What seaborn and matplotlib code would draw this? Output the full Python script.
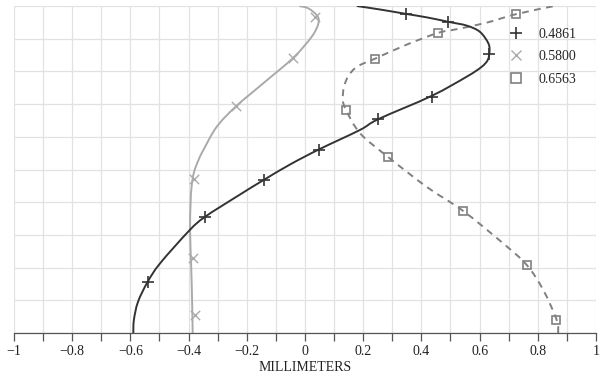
import matplotlib
matplotlib.use("Agg")
import matplotlib.pyplot as plt
import seaborn as sns
import numpy as np
from matplotlib.lines import Line2D
from matplotlib.path import Path
from matplotlib.patches import PathPatch

# ---- data ----
labels = ["0.4861", "0.5800", "0.6563"]

# curve paths (x in millimeters, y normalized field height), bottom -> top
black_x = [-0.590, -0.588, -0.574, -0.541, -0.498, -0.398, -0.344, -0.235, -0.142, -0.050,
           0.047, 0.189, 0.252, 0.435, 0.556, 0.607, 0.628, 0.634, 0.630, 0.601,
           0.556, 0.496, 0.420, 0.346, 0.260, 0.178]
black_y = [0.000, 0.040, 0.095, 0.156, 0.213, 0.313, 0.355, 0.417, 0.468, 0.516,
           0.561, 0.621, 0.654, 0.725, 0.784, 0.814, 0.835, 0.860, 0.886, 0.921,
           0.940, 0.951, 0.965, 0.976, 0.989, 1.000]

gray_x = [-0.386, -0.388, -0.391, -0.395, -0.393, -0.390, -0.382, -0.366, -0.349, -0.303,
          -0.236, -0.143, -0.040, 0.023, 0.046, 0.042, 0.011, -0.020]
gray_y = [0.000, 0.100, 0.200, 0.315, 0.400, 0.445, 0.490, 0.529, 0.560, 0.631,
          0.694, 0.764, 0.842, 0.906, 0.947, 0.970, 0.993, 1.000]

dash_x = [0.870, 0.865, 0.819, 0.762, 0.681, 0.544, 0.418, 0.283, 0.189, 0.141,
          0.130, 0.134, 0.150, 0.180, 0.241, 0.347, 0.458, 0.521, 0.624, 0.725, 0.857]
dash_y = [0.000, 0.040, 0.131, 0.208, 0.274, 0.373, 0.447, 0.540, 0.611, 0.682,
          0.713, 0.753, 0.787, 0.815, 0.839, 0.881, 0.918, 0.929, 0.949, 0.975, 1.000]

# marker positions
black_mx = [0.346, 0.491, 0.632, 0.435, 0.251, 0.048, -0.141, -0.344, -0.541]
black_my = [0.976, 0.951, 0.853, 0.723, 0.654, 0.561, 0.468, 0.355, 0.156]
gray_mx = [0.034, -0.041, -0.236, -0.382, -0.386, -0.379]
gray_my = [0.967, 0.842, 0.694, 0.471, 0.228, 0.055]
dash_mx = [0.725, 0.456, 0.241, 0.140, 0.284, 0.544, 0.762, 0.863]
dash_my = [0.975, 0.917, 0.839, 0.682, 0.539, 0.373, 0.207, 0.040]

xticks = [-1, -0.8, -0.6, -0.4, -0.2, 0, 0.2, 0.4, 0.6, 0.8, 1]
xticklabels = ["\u22121", "\u22120.8", "\u22120.6", "\u22120.4", "\u22120.2", "0",
               "0.2", "0.4", "0.6", "0.8", "1"]

# ---- style ----
sns.set_theme(style="white")
plt.rcParams["font.family"] = ["Liberation Serif", "DejaVu Serif"]

c_black = "#333333"
c_gray = "#aaaaaa"
c_dash = "#808080"


def smooth_path(xs, ys):
    """Catmull-Rom rendering of the read points as cubic Bezier segments."""
    P = np.column_stack([xs, ys])
    n = len(P)
    verts = [P[0]]
    codes = [Path.MOVETO]
    for i in range(n - 1):
        p0 = P[i - 1] if i > 0 else P[i]
        p1 = P[i]
        p2 = P[i + 1]
        p3 = P[i + 2] if i + 2 < n else P[i + 1]
        c1 = p1 + (p2 - p0) / 6.0
        c2 = p2 - (p3 - p1) / 6.0
        verts += [c1, c2, p2]
        codes += [Path.CURVE4] * 3
    return Path(verts, codes)


fig = plt.figure(figsize=(6.15, 3.77), dpi=100)
ax = fig.add_axes([14 / 615, 44 / 377, 582 / 615, 327 / 377])

# grid
for v in np.round(np.arange(-1, 1.0001, 0.1), 2):
    ax.axvline(v, color="#e2e2e2", lw=0.9, zorder=0)
for v in np.round(np.arange(0, 1.0001, 0.1), 2):
    ax.axhline(v, color="#e2e2e2", lw=0.9, zorder=0)

ax.add_patch(PathPatch(smooth_path(gray_x, gray_y), fill=False, ec=c_gray, lw=1.4, zorder=2))
ax.add_patch(PathPatch(smooth_path(black_x, black_y), fill=False, ec=c_black, lw=1.4, zorder=3))
ax.add_patch(PathPatch(smooth_path(dash_x, dash_y), fill=False, ec=c_dash, lw=1.4, zorder=2,
                       linestyle=(0, (3.5, 2.8))))

sns.scatterplot(x=black_mx, y=black_my, marker="+", s=70, linewidth=1.2, color=c_black,
                ax=ax, zorder=4)
sns.scatterplot(x=gray_mx, y=gray_my, marker="x", s=45, linewidth=1.0, color=c_gray,
                ax=ax, zorder=4)
ax.plot(dash_mx, dash_my, ls="none", marker="s", ms=6, mew=1.2, mfc="none",
        color=c_dash, zorder=4)

ax.set_xlim(-1, 1)
ax.set_ylim(0, 1)
ax.set_xticks(np.round(np.arange(-1, 1.0001, 0.1), 2), minor=True)
ax.set_xticks(xticks)
ax.set_xticklabels(xticklabels, fontsize=10, color="#222222")
ax.set_yticks([])
ax.tick_params(axis="x", which="both", direction="out", length=5.5, width=0.9,
               color="#555555", bottom=True, pad=3)
for s in ["top", "right", "left"]:
    ax.spines[s].set_visible(False)
ax.spines["bottom"].set_color("#555555")
ax.spines["bottom"].set_linewidth(0.9)
ax.set_xlabel("MILLIMETERS", fontsize=10, color="#222222", labelpad=2)
ax.set_ylabel("")

handles = [
    Line2D([], [], ls="none", marker="+", ms=9, mew=1.2, color=c_black),
    Line2D([], [], ls="none", marker="x", ms=7, mew=1.0, color=c_gray),
    Line2D([], [], ls="none", marker="s", ms=7, mew=1.2, mfc="none", color=c_dash),
]
ax.legend(handles, labels, loc="upper left", bbox_to_anchor=(0.8505, 0.933),
          frameon=False, fontsize=10, borderpad=0, borderaxespad=0,
          handlelength=1.0, handletextpad=1.1, labelspacing=0.68)

fig.savefig("out.png", dpi=100)
